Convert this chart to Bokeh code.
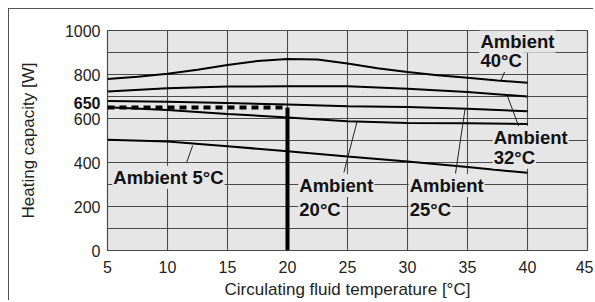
from bokeh.plotting import figure
from bokeh.models import Range1d, FixedTicker, LinearAxis, Label
from bokeh.embed import file_html
from bokeh.resources import INLINE

# ---- data ----
t_fine = [5, 7.5, 10, 12.5, 15, 17.5, 20, 22.5, 25, 27.5, 30, 32.5, 35, 37.5, 40]
amb40 = [780, 790, 803, 822, 843, 861, 870, 868, 850, 828, 811, 797, 785, 773, 762]
t = [5, 10, 15, 20, 25, 30, 35, 40]
amb32 = [723, 738, 745, 747, 747, 735, 720, 700]
amb25 = [680, 676, 670, 664, 656, 652, 644, 633]
amb20 = [651, 639, 621, 605, 588, 580, 578, 575]
amb5 = [503, 495, 474, 451, 427, 405, 379, 353]

op_temp = 20
op_cap = 650

x_ticks = [5, 10, 15, 20, 25, 30, 35, 40, 45]
y_ticks = [0, 200, 400, 600, 800, 1000]
y_grid = [0, 100, 200, 300, 400, 500, 600, 700, 800, 900, 1000]

# label texts and anchor positions (data coords)
lab_text = [["Ambient", "40°C"], ["Ambient", "32°C"], ["Ambient", "20°C"], ["Ambient", "25°C"], ["Ambient 5°C"]]
lab_x = [36.0, 37.1, 20.9, 30.1, 5.4]
lab_y = [[951, 864], [514, 424], [295, 186], [295, 186], [333]]

# leader lines (curve point -> label)
lead_x0 = [37.8, 38.3, 25.8, 34.8, 12.1]
lead_y0 = [774, 706, 587, 645, 477]
lead_x1 = [38.2, 39.4, 24.7, 34.0, 11.6]
lead_y1 = [826, 545, 355, 350, 401]

FONT = "Liberation Sans"
BG = "#e6e6e6"
GRID = "#4a4a4a"

FRAME_H = 220
p = figure(width=585, height=292, output_backend="svg", toolbar_location=None,
           x_range=Range1d(5, 45), y_range=Range1d(0, 1000),
           min_border_left=98, min_border_top=21, min_border_bottom=51, min_border_right=7)
p.styles = {"margin-left": "8px", "margin-top": "8px",
            "border-top": "1.5px solid #555", "border-left": "1.5px solid #555"}
p.background_fill_color = BG
p.border_fill_color = "white"
p.outline_line_color = GRID
p.outline_line_width = 1.2

p.xaxis.ticker = FixedTicker(ticks=x_ticks)
p.yaxis.ticker = FixedTicker(ticks=y_ticks)
p.xgrid.ticker = FixedTicker(ticks=x_ticks)
p.ygrid.ticker = FixedTicker(ticks=y_grid)
for g in (p.xgrid, p.ygrid):
    g.grid_line_color = GRID
    g.grid_line_width = 1.1
    g.grid_line_alpha = 1

# extra left axis carrying the bold 650 label (raised ~5px like the original) and the axis title
shift = 5 * 1000 / FRAME_H
pos650 = op_cap + shift
ax650 = LinearAxis(ticker=FixedTicker(ticks=[pos650]),
                   major_label_overrides={pos650: str(op_cap)})
p.add_layout(ax650, "left")

def style_axis(ax):
    ax.axis_line_color = None
    ax.major_tick_line_color = None
    ax.minor_tick_line_color = None
    ax.major_tick_out = 0
    ax.major_tick_in = 0
    ax.major_label_text_font = FONT
    ax.major_label_text_font_size = "16px"
    ax.major_label_text_color = "#222222"
    ax.axis_label_text_font = FONT
    ax.axis_label_text_font_size = "17px"
    ax.axis_label_text_font_style = "normal"
    ax.axis_label_text_color = "#222222"

style_axis(p.xaxis[0])
style_axis(p.yaxis[0])
style_axis(ax650)

p.xaxis.axis_label = "Circulating fluid temperature [°C]"
p.xaxis.major_label_standoff = 10
p.xaxis.axis_label_standoff = 4
p.yaxis[0].major_label_standoff = 7

ax650.axis_label = "Heating capacity [W]"
ax650.major_label_text_font_style = "bold"
ax650.major_label_text_color = "#111111"
ax650.major_label_standoff = -39
ax650.axis_label_standoff = 33

# curves
p.line(t_fine, amb40, line_color="black", line_width=2)
for ys in (amb32, amb25, amb20, amb5):
    p.line(t, ys, line_color="black", line_width=2)

# operating point lines
p.line([t[0], op_temp], [op_cap, op_cap], line_color="black", line_width=4, line_dash="7 5")
p.line([op_temp, op_temp], [0, op_cap], line_color="black", line_width=4)

# leader lines
p.segment(lead_x0, lead_y0, lead_x1, lead_y1, line_color="#222222", line_width=1)

# labels
for texts, lx, lys in zip(lab_text, lab_x, lab_y):
    for tx, ly in zip(texts, lys):
        p.add_layout(Label(x=lx, y=ly, text=tx, text_font=FONT, text_font_size="18.5px",
                           text_font_style="bold", text_color="#111111",
                           text_align="left", text_baseline="middle",
                           background_fill_color=BG, background_fill_alpha=1,
                           padding=1))

open("out.html", "w").write(file_html(p, INLINE))
